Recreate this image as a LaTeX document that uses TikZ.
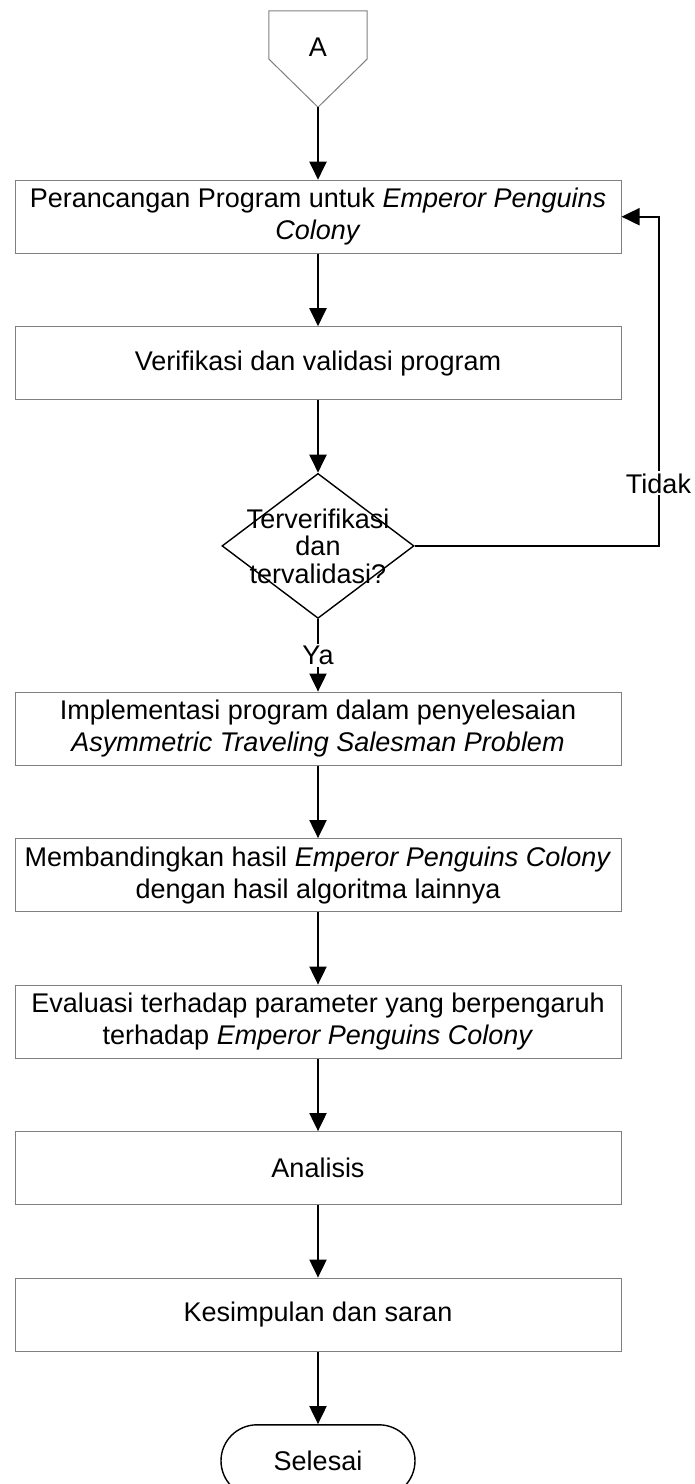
\documentclass[tikz,border=0pt]{standalone}
\usepackage{fontspec}
\setmainfont{Liberation Sans}
\usepackage{xcolor}
\usepackage{tikz}
\usetikzlibrary{arrows.meta,positioning,shapes.geometric,calc}
\definecolor{ink}{HTML}{000000}
\definecolor{boxline}{HTML}{7F7F7F}

\begin{document}
\begin{tikzpicture}[
  node distance=72.5pt,
  every node/.style={font=\fontsize{27}{32}\selectfont},
  proc/.style={rectangle, draw=boxline, line width=1pt, minimum width=606pt,
    minimum height=73pt, align=center, inner sep=2pt},
  offpage/.style={rectangle, minimum width=98pt, minimum height=96pt,
    inner sep=0pt, text height=0pt, text depth=4.6pt},
  dec/.style={diamond, draw=ink, line width=1.4pt, minimum width=192pt,
    minimum height=145pt, inner sep=0pt},
  dectext/.style={align=center, font=\fontsize{27}{27.5}\selectfont},
  term/.style={rectangle, rounded corners=36pt, draw=ink, line width=1.4pt,
    minimum width=194pt, minimum height=72pt},
  arr/.style={-{Triangle[length=18pt, width=17pt]}, line width=2pt, draw=ink},
  lbl/.style={fill=white, inner sep=2pt},
]
\useasboundingbox (0,0) rectangle (694pt,-1484pt);

\node[offpage] (conA) at (318pt,-59pt) {A};
\draw[draw=boxline, line width=1pt] (conA.north west) -- (conA.north east)
  -- (conA.east) -- (conA.south) -- (conA.west) -- cycle;
\node[proc, below=of conA] (design) {Perancangan Program untuk \textit{Emperor Penguins}\\\textit{Colony}};
\node[proc, below=of design] (verify) {Verifikasi dan validasi program};
\node[dec, below=of verify] (check) {};
\node[dectext] (checktxt) at (check) {Terverifikasi\\dan\\tervalidasi?};
\node[proc, below=of check] (impl) {Implementasi program dalam penyelesaian\\\textit{Asymmetric Traveling Salesman Problem}};
\node[proc, below=of impl] (compare) {Membandingkan hasil \textit{Emperor Penguins Colony}\\dengan hasil algoritma lainnya};
\node[proc, below=of compare] (evalp) {Evaluasi terhadap parameter yang berpengaruh\\terhadap \textit{Emperor Penguins Colony}};
\node[proc, below=of evalp] (analyze) {Analisis};
\node[proc, below=of analyze] (conclude) {Kesimpulan dan saran};
\node[term, below=of conclude] (finish) {Selesai};
\coordinate (loopup) at ($(design.east)+(37pt,0)$);

\draw[arr] (conA.south) -- (design);
\draw[arr] (design) -- (verify);
\draw[arr] (verify) -- (check);
\draw[arr] (check.south) -- node[lbl]{Ya} (impl);
\draw[arr] (check.east) -- (check.east -| loopup)
  -- node[lbl, pos=0.19]{Tidak} (loopup) -- (design.east);
\draw[arr] (impl) -- (compare);
\draw[arr] (compare) -- (evalp);
\draw[arr] (evalp) -- (analyze);
\draw[arr] (analyze) -- (conclude);
\draw[arr] (conclude) -- (finish);
\end{tikzpicture}
\end{document}
